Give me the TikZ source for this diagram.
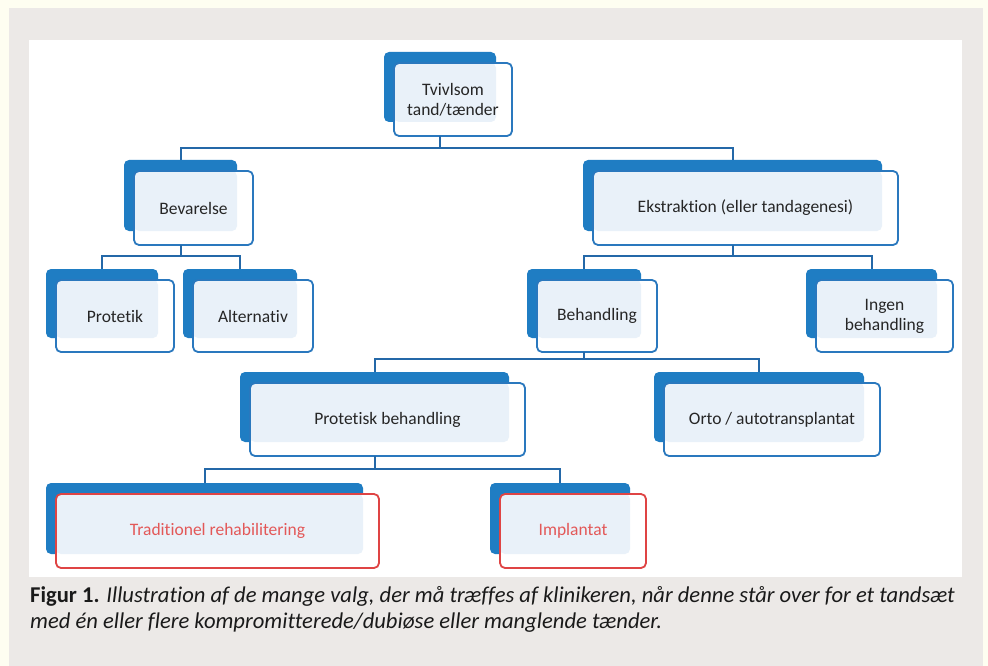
\documentclass[tikz,border=0pt]{standalone}
\usepackage{fontspec}
\setmainfont{Carlito}[Ligatures=NoCommon]
\usetikzlibrary{calc,fit}

\definecolor{creamedge}{HTML}{FEFEF1}
\definecolor{panelgrey}{HTML}{ECE9E7}
\definecolor{backblue}{HTML}{1F7DC3}
\definecolor{blueline}{HTML}{2A78BE}
\definecolor{bluetext}{HTML}{262626}
\definecolor{redline}{HTML}{DF4444}
\definecolor{redtext}{HTML}{E35858}
\definecolor{palefill}{HTML}{E9F1F9}
\definecolor{connblue}{HTML}{2468A8}
\definecolor{captext}{HTML}{1A1A1A}

\tikzset{
  backbox/.style={fill=backblue, rounded corners=5pt, inner sep=0pt, outer sep=0pt},
  frontbox/.style={fill=white, rounded corners=5pt, inner sep=0pt, outer sep=0pt},
  boxtext/.style={align=center, inner sep=0pt, font=\fontsize{17.5}{20}\selectfont},
  conn/.style={draw=connblue, line width=2pt},
  captxt/.style={anchor=base west, inner sep=0pt, text=captext, font=\fontsize{22.6}{26}\selectfont}
}

% [colour prefix]{name}{back nw}{back se}{text}
\newcommand{\tandbox}[5][blue]{%
  \coordinate (#2-nw) at (#3);
  \coordinate (#2-se) at (#4);
  \coordinate (#2-fnw) at ($(#2-nw)+(10,11)$);
  \coordinate (#2-fse) at ($(#2-se)+(16,14)$);
  \node[backbox, fit=(#2-nw)(#2-se)] (#2-b) {};
  \node[frontbox, fit=(#2-fnw)(#2-fse)] (#2) {};
  \fill[palefill, rounded corners=5pt] (#2-fnw) rectangle (#2-se);
  \draw[#1line, line width=1.8pt, rounded corners=5pt] (#2.north west) rectangle (#2.south east);
  \node[boxtext, text=#1text] (#2-t) at (#2) {#5};
}

\begin{document}
\begin{tikzpicture}[x=1pt,y=-1pt]
  % frame
  \fill[creamedge] (0,0) rectangle (988,666);
  \fill[panelgrey] (9,8) rectangle (983,666);
  \fill[white] (29,40) rectangle (962,577);

  % boxes
  \tandbox{tvi}{384,52}{496,122}{Tvivlsom\\tand/tænder}
  \tandbox{bev}{124,160}{237,231}{Bevarelse}
  \tandbox{eks}{583,160}{882,231}{Ekstraktion (eller tandagenesi)}
  \tandbox{pro}{46,269}{158,338}{Protetik}
  \tandbox{alt}{183,269}{297,338}{Alternativ}
  \tandbox{beh}{527,269}{641,338}{Behandling}
  \tandbox{ing}{806,269}{937,338}{Ingen\\behandling}
  \tandbox{ptb}{240,372}{509,442}{Protetisk behandling}
  \tandbox{ort}{654,372}{864,442}{Orto / autotransplantat}
  \tandbox[red]{tra}{46,483}{363,554}{Traditionel rehabilitering}
  \tandbox[red]{imp}{490,483}{630,554}{Implantat}

  % connectors
  \coordinate (j1) at (0,148);
  \coordinate (j2) at (0,256);
  \coordinate (j3) at (0,359);
  \coordinate (j4) at (0,469);
  \draw[conn] (tvi-b.south |- tvi.south) -- (tvi-b.south |- j1);
  \draw[conn] (bev-b.north) |- (j1 -| eks-b.north) -- (eks-b.north);
  \draw[conn] (bev-b.south |- bev.south) -- (bev-b.south |- j2);
  \draw[conn] (pro-b.north) |- (j2 -| alt-b.north) -- (alt-b.north);
  \draw[conn] (eks-b.south |- eks.south) -- (eks-b.south |- j2);
  \draw[conn] (beh-b.north) |- (j2 -| ing-b.north) -- (ing-b.north);
  \draw[conn] (beh-b.south |- beh.south) -- (beh-b.south |- j3);
  \draw[conn] (ptb-b.north) |- (j3 -| ort-b.north) -- (ort-b.north);
  \draw[conn] (ptb-b.south |- ptb.south) -- (ptb-b.south |- j4);
  \draw[conn] (tra-b.north) |- (j4 -| imp-b.north) -- (imp-b.north);

  % caption
  \node[captxt] (cap1) at (30,602) {\textbf{Figur 1.} \textit{Illustration af de mange valg, der må træffes af klinikeren, når denne står over for et tandsæt}};
  \node[captxt] (cap2) at (30,628) {\textit{med én eller flere kompromitterede/dubiøse eller manglende tænder.}};
\end{tikzpicture}
\end{document}
